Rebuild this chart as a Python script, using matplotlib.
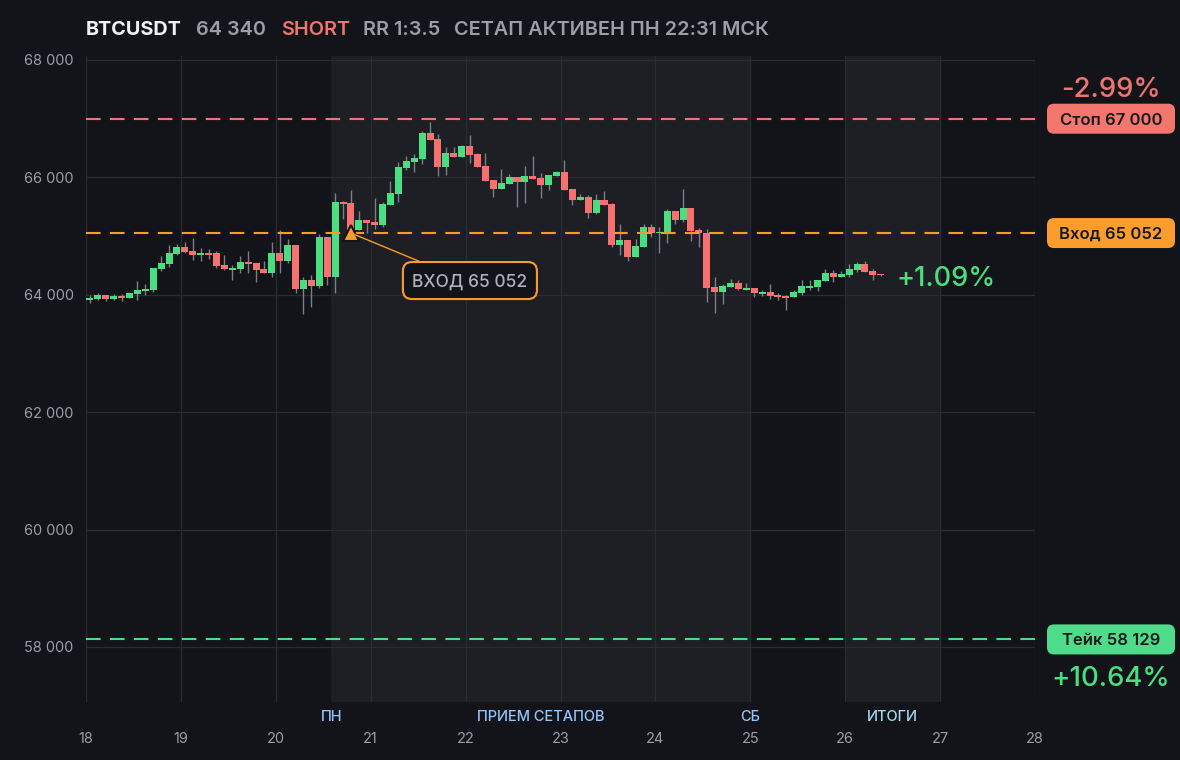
import math
import matplotlib
matplotlib.use("Agg")
import matplotlib.pyplot as plt
from matplotlib.patches import FancyBboxPatch
from matplotlib.ticker import FixedLocator, FuncFormatter

plt.rcParams['font.family'] = ['Inter', 'DejaVu Sans']

# ---------------- data ----------------
symbol = "BTCUSDT"
side = "SHORT"
setup_text = "СЕТАП АКТИВЕН ПН 22:31 МСК"
last_price = 64340
entry_price = 65052
stop_price = 67000
take_price = 58129

start_day = 18
candle_hours = 2
entry_candle = 33

opens = [63910, 63933, 63990, 63933, 63979, 63950, 64013, 64064, 64081, 64439,
         64524, 64694, 64813, 64745, 64677, 64711, 64711, 64507, 64422, 64439,
         64558, 64541, 64439, 64370, 64711, 64575, 64848, 64098, 64251, 64149,
         64984, 64302, 65580, 65563, 65103, 65274, 65240, 65194, 65529, 65717,
         66160, 66262, 66313, 66756, 66654, 66177, 66415, 66347, 66535, 66398,
         66194, 65955, 65802, 65887, 66006, 65921, 66023, 65989, 65870, 66023,
         66092, 65802, 65614, 65666, 65393, 65614, 65546, 64848, 64933, 64643,
         64813, 65154, 65052, 65035, 65427, 65274, 65478, 65103, 65052, 64132,
         64047, 64132, 64200, 64081, 64115, 64013, 64047, 63996, 63979, 63962,
         64030, 64115, 64132, 64234, 64370, 64302, 64336, 64422, 64524, 64405,
         64353]
highs = [63996, 64024, 63995, 64013, 64013, 64052, 64234, 64183, 64456, 64660,
         64848, 64865, 64899, 64967, 64796, 64779, 64745, 64677, 64507, 64660,
         64745, 64541, 64575, 64899, 65103, 64950, 64848, 64302, 64336, 65035,
         64984, 65734, 65600, 65785, 65427, 65274, 65648, 65580, 65938, 66262,
         66364, 66398, 66790, 66944, 66739, 66518, 66518, 66552, 66722, 66415,
         66415, 65955, 66143, 66057, 66006, 66194, 66364, 66074, 66040, 66109,
         66296, 65802, 65717, 65700, 65717, 65768, 65563, 65205, 64933, 64950,
         65205, 65205, 65154, 65461, 65427, 65802, 65478, 65137, 65120, 64302,
         64183, 64268, 64251, 64200, 64115, 64081, 64183, 64030, 63996, 64081,
         64251, 64251, 64251, 64439, 64422, 64405, 64524, 64558, 64575, 64439,
         64353]
lows = [63865, 63910, 63899, 63910, 63899, 63950, 63910, 63996, 64047, 64405,
        64473, 64677, 64711, 64592, 64575, 64609, 64456, 64422, 64251, 64370,
        64370, 64217, 64370, 64302, 64370, 64541, 64030, 63672, 63791, 64115,
        64166, 64030, 65291, 65000, 65103, 65052, 65120, 65160, 65529, 65580,
        66126, 66092, 66228, 66637, 66023, 66040, 66347, 66347, 66245, 66177,
        65938, 65666, 65802, 65887, 65495, 65563, 65972, 65648, 65785, 66023,
        65785, 65529, 65614, 65308, 65376, 65529, 64813, 64677, 64575, 64643,
        64813, 64984, 64711, 64882, 65205, 65240, 64916, 64813, 63876, 63689,
        63842, 64132, 64081, 64081, 63962, 63979, 63927, 63910, 63740, 63962,
        63996, 64081, 64064, 64234, 64217, 64302, 64302, 64388, 64388, 64251,
        64319]
closes = [63950, 63990, 63933, 63979, 63944, 64030, 64081, 64098, 64456, 64541,
          64711, 64813, 64728, 64677, 64711, 64677, 64490, 64439, 64456, 64558,
          64524, 64422, 64370, 64711, 64575, 64848, 64098, 64251, 64149, 64984,
          64302, 65580, 65546, 65103, 65274, 65222, 65194, 65546, 65734, 66177,
          66279, 66330, 66756, 66637, 66177, 66415, 66347, 66535, 66381, 66177,
          65938, 65802, 65904, 66006, 65921, 66023, 65972, 65870, 66040, 66092,
          65785, 65614, 65666, 65393, 65614, 65529, 64848, 64933, 64643, 64830,
          65154, 65052, 65060, 65427, 65274, 65478, 65086, 65052, 64115, 64047,
          64149, 64200, 64098, 64115, 64030, 64047, 63979, 63962, 63944, 64047,
          64149, 64149, 64251, 64370, 64302, 64353, 64439, 64524, 64388, 64336,
          64340]

x_ticks = list(range(18, 29))
y_ticks = list(range(58000, 68001, 2000))
session_bands = [(20 + 14 / 24, 25.0), (26.0, 27.0)]
session_labels = ["ПН", "ПРИЕМ СЕТАПОВ", "СБ", "ИТОГИ"]
session_label_x = [20 + 14 / 24, (20 + 14 / 24 + 25.0) / 2, 25.0, 26.5]

# ---------------- style ----------------
BG = "#131419"
BAND = "#1e1f24"
GRID = "#2a2c32"
GREEN = "#4ade80"
RED = "#f87171"
ORANGE = "#f99b2c"
WICK = "#7c7f87"
TICK = "#9a9ea6"
GRAY_T = "#9a9ea6"
BLUE_T = "#93c5fd"
BLUE_T2 = "#a5d8f2"

W, H = 1180, 760
fig = plt.figure(figsize=(W / 100, H / 100), dpi=100, facecolor=BG)
ax = fig.add_axes([86 / W, 1 - 702 / H, (1035 - 86) / W, (702 - 56) / H])
ax.set_facecolor(BG)
ax.set_xlim(18, 28)
ax.set_ylim(57063, 68068)

for s in ax.spines.values():
    s.set_visible(False)

for a, b in session_bands:
    ax.axvspan(a, b, color=BAND, zorder=0, lw=0)

ax.xaxis.set_major_locator(FixedLocator(x_ticks))
ax.yaxis.set_major_locator(FixedLocator(y_ticks))
ax.yaxis.set_major_formatter(FuncFormatter(lambda v, p: f"{v:,.0f}".replace(",", " ")))
ax.grid(True, color=GRID, lw=0.9, zorder=0.5)
ax.set_axisbelow(True)
ax.tick_params(axis='both', length=0, colors=TICK, labelsize=10.5)
ax.tick_params(axis='y', pad=9)
ax.tick_params(axis='x', pad=21.5)

# candles
xs = [start_day + (i + 0.5) * candle_hours / 24 for i in range(len(opens))]
cw = 0.074
for x, o, h, l, c in zip(xs, opens, highs, lows, closes):
    col = GREEN if c >= o else RED
    ax.vlines(x, l, h, color=WICK, lw=1.0, zorder=2)
    bot = min(o, c)
    ht = max(abs(c - o), 17)
    ax.bar(x, ht, bottom=bot, width=cw, color=col, lw=0, zorder=3)

# levels
dash = (7, 4.5)
ax.axhline(stop_price, color=RED, lw=1.5, dashes=dash, zorder=4)
ax.axhline(entry_price, color=ORANGE, lw=1.5, dashes=dash, zorder=4)
ax.axhline(take_price, color=GREEN, lw=1.5, dashes=dash, zorder=4)

# entry marker
ex = xs[entry_candle]
ax.plot([ex], [entry_price], marker='^', ms=11, color=ORANGE, mec=BG, mew=1.5, zorder=6)

# session labels under the axis
trans = ax.get_xaxis_transform()
for lab, lx in zip(session_labels, session_label_x):
    col = BLUE_T2 if lab == "ИТОГИ" else BLUE_T
    ax.text(lx, -0.0295, lab, transform=trans, ha='center', va='baseline',
            fontsize=10.5, color=col, fontweight='medium')

# ---------------- overlay in pixel coords ----------------
ov = fig.add_axes([0, 0, 1, 1], zorder=10)
ov.set_xlim(0, W)
ov.set_ylim(H, 0)
ov.axis('off')
ov.patch.set_alpha(0)


def px(x, y):
    dx, dy = ax.transData.transform((x, y))
    return dx, H - dy


def fmt(v):
    return f"{v:,.0f}".replace(",", " ")


# title
rr = (entry_price - take_price) / (stop_price - entry_price)
rr_txt = f"RR 1:{math.floor(rr * 10) / 10}"
title_items = [(symbol, "#f1f2f4", 'bold', 86),
               (fmt(last_price), GRAY_T, 'semibold', 196),
               (side, "#f07470", 'semibold', 281),
               (rr_txt, GRAY_T, 'semibold', 363),
               (setup_text, GRAY_T, 'semibold', 454)]
for txt, col, wt, tx in title_items:
    ov.text(tx, 35, txt, color=col, fontweight=wt, fontsize=14.3, ha='left', va='baseline')


def level_box(price, label, face):
    _, y = px(28, price)
    bx, bw, bh = 1047, 128, 30
    ov.add_patch(FancyBboxPatch((bx, y - bh / 2), bw, bh,
                                boxstyle="round,pad=0,rounding_size=7",
                                fc=face, ec='none', zorder=5))
    ov.text(bx + bw / 2, y + 6, label, ha='center', va='baseline', fontsize=12,
            fontweight='semibold', color="#17181c", zorder=6)
    return y


stop_pct = (entry_price - stop_price) / entry_price * 100
take_pct = (entry_price - take_price) / entry_price * 100
last_pct = (entry_price - last_price) / entry_price * 100

ys = level_box(stop_price, f"Стоп {fmt(stop_price)}", "#f3766f")
ye = level_box(entry_price, f"Вход {fmt(entry_price)}", "#fa9d2c")
yt = level_box(take_price, f"Тейк {fmt(take_price)}", "#4edc8a")

ov.text(1111, ys - 22, f"{stop_pct:+.2f}%", ha='center', va='baseline',
        fontsize=19.8, color="#f07470", fontweight='medium')
ov.text(1111, yt + 47, f"{take_pct:+.2f}%", ha='center', va='baseline',
        fontsize=19.8, color=GREEN, fontweight='medium')

lx, ly = px(xs[-1], last_price)
ov.text(lx + 16, ly + 11, f"{last_pct:+.2f}%", ha='left', va='baseline',
        fontsize=19.6, color=GREEN, fontweight='medium')

# entry annotation box
mx, my = px(ex, entry_price)
bx, by, bw, bh = mx + 52, my + 29, 134, 37
ov.plot([mx, bx + 18], [my, by], color=ORANGE, lw=1.0, zorder=4)
ov.add_patch(FancyBboxPatch((bx, by), bw, bh, boxstyle="round,pad=0,rounding_size=9",
                            fc=BG, ec=ORANGE, lw=1.5, zorder=5))
ov.text(bx + bw / 2, by + bh / 2 + 6.5, f"ВХОД {fmt(entry_price)}", ha='center', va='baseline',
        fontsize=12.5, color="#aeb1b8", fontweight='medium', zorder=6)

fig.savefig("out.png", dpi=100, facecolor=BG)
